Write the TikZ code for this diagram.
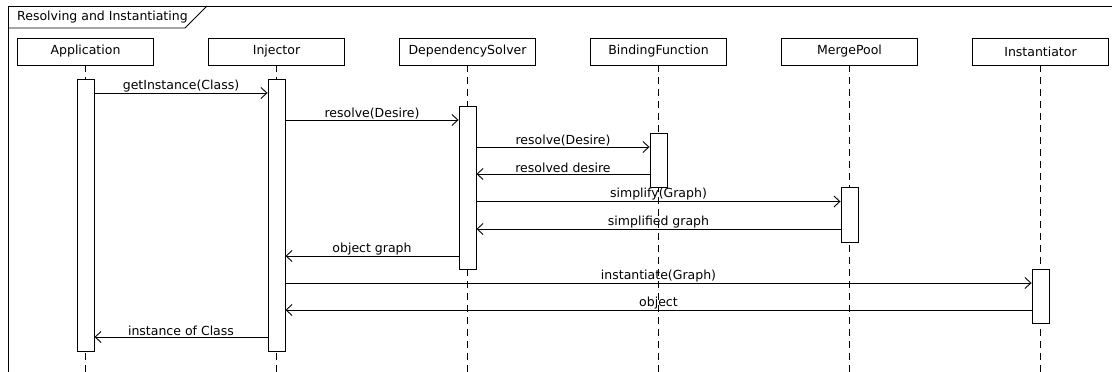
\documentclass[tikz,border=0pt]{standalone}
\usepackage{fontspec}
\setmainfont{DejaVu Sans}
\usetikzlibrary{arrows.meta}
\tikzset{
  base/.style={line width=0.9pt, draw=black},
  headbox/.style={base, rectangle, minimum width=136pt, minimum height=27pt, inner sep=0pt, font=\fontsize{12.5}{14}\selectfont},
  actbox/.style={base, rectangle, fill=white, minimum width=17pt, inner sep=0pt, anchor=north},
  life/.style={line width=0.9pt, dash pattern=on 7pt off 5pt},
  msg/.style={line width=0.9pt, -{Straight Barb[length=6pt,width=11pt,line width=0.9pt]}},
  lbl/.style={anchor=south, inner sep=0.6pt, font=\fontsize{12.5}{14}\selectfont},
}
\begin{document}
\begin{tikzpicture}[x=1pt, y=-1pt]
\clip (0,0) rectangle (1112,372);
\useasboundingbox (0,0) rectangle (1112,372);
% frame
\draw[base] (8,380) -- (8,6) -- (1120,6);
\coordinate (tabA) at (8,28);
\coordinate (tabB) at (185,28);
\coordinate (tabC) at (207,6);
\draw[base] (tabA) -- (tabB) -- (tabC);
\node[anchor=west, inner sep=0pt, font=\fontsize{12.5}{14}\selectfont] (title) at (17,17) {Resolving and Instantiating};
% heads
\node[headbox] (hApp)  at (85.5,51.5)  {Application};
\node[headbox] (hInj)  at (276.5,51.5) {Injector};
\node[headbox] (hDS)   at (467.5,51.5) {DependencySolver};
\node[headbox] (hBF)   at (658.5,51.5) {BindingFunction};
\node[headbox] (hMP)   at (849.5,51.5) {MergePool};
\node[headbox] (hInst) at (1040.5,51.5){Instantiator};
% lifelines
\coordinate (bot) at (0,380);
\foreach \h in {hApp,hInj,hDS,hBF,hMP,hInst}
  \draw[life] (\h.south) -- (\h.south |- bot);
% activations
\node[actbox, minimum height=272pt] (aApp)  at (85.5,79)  {};
\node[actbox, minimum height=272pt] (aInj)  at (276.5,79) {};
\node[actbox, minimum height=163pt] (aDS)   at (467.5,106){};
\node[actbox, minimum height=54pt]  (aBF)   at (658.5,133){};
\node[actbox, minimum height=55pt]  (aMP)   at (849.5,187){};
\node[actbox, minimum height=54pt]  (aInst) at (1040.5,269){};
% message rows
\coordinate (m1) at (0,93);
\coordinate (m2) at (0,120);
\coordinate (m3) at (0,147);
\coordinate (m4) at (0,174);
\coordinate (m5) at (0,201.5);
\coordinate (m6) at (0,229);
\coordinate (m7) at (0,256);
\coordinate (m8) at (0,283);
\coordinate (m9) at (0,310);
\coordinate (m10) at (0,337);
\draw[msg] (aApp.east |- m1) -- node[lbl]{getInstance(Class)} (aInj.west |- m1);
\draw[msg] (aInj.east |- m2) -- node[lbl]{resolve(Desire)} (aDS.west |- m2);
\draw[msg] (aDS.east |- m3) -- node[lbl]{resolve(Desire)} (aBF.west |- m3);
\draw[msg] (aBF.west |- m4) -- node[lbl]{resolved desire} (aDS.east |- m4);
\draw[msg] (aDS.east |- m5) -- node[lbl]{simplify(Graph)} (aMP.west |- m5);
\draw[msg] (aMP.west |- m6) -- node[lbl]{simplified graph} (aDS.east |- m6);
\draw[msg] (aDS.west |- m7) -- node[lbl]{object graph} (aInj.east |- m7);
\draw[msg] (aInj.east |- m8) -- node[lbl]{instantiate(Graph)} (aInst.west |- m8);
\draw[msg] (aInst.west |- m9) -- node[lbl]{object} (aInj.east |- m9);
\draw[msg] (aInj.west |- m10) -- node[lbl]{instance of Class} (aApp.east |- m10);
\end{tikzpicture}
\end{document}
